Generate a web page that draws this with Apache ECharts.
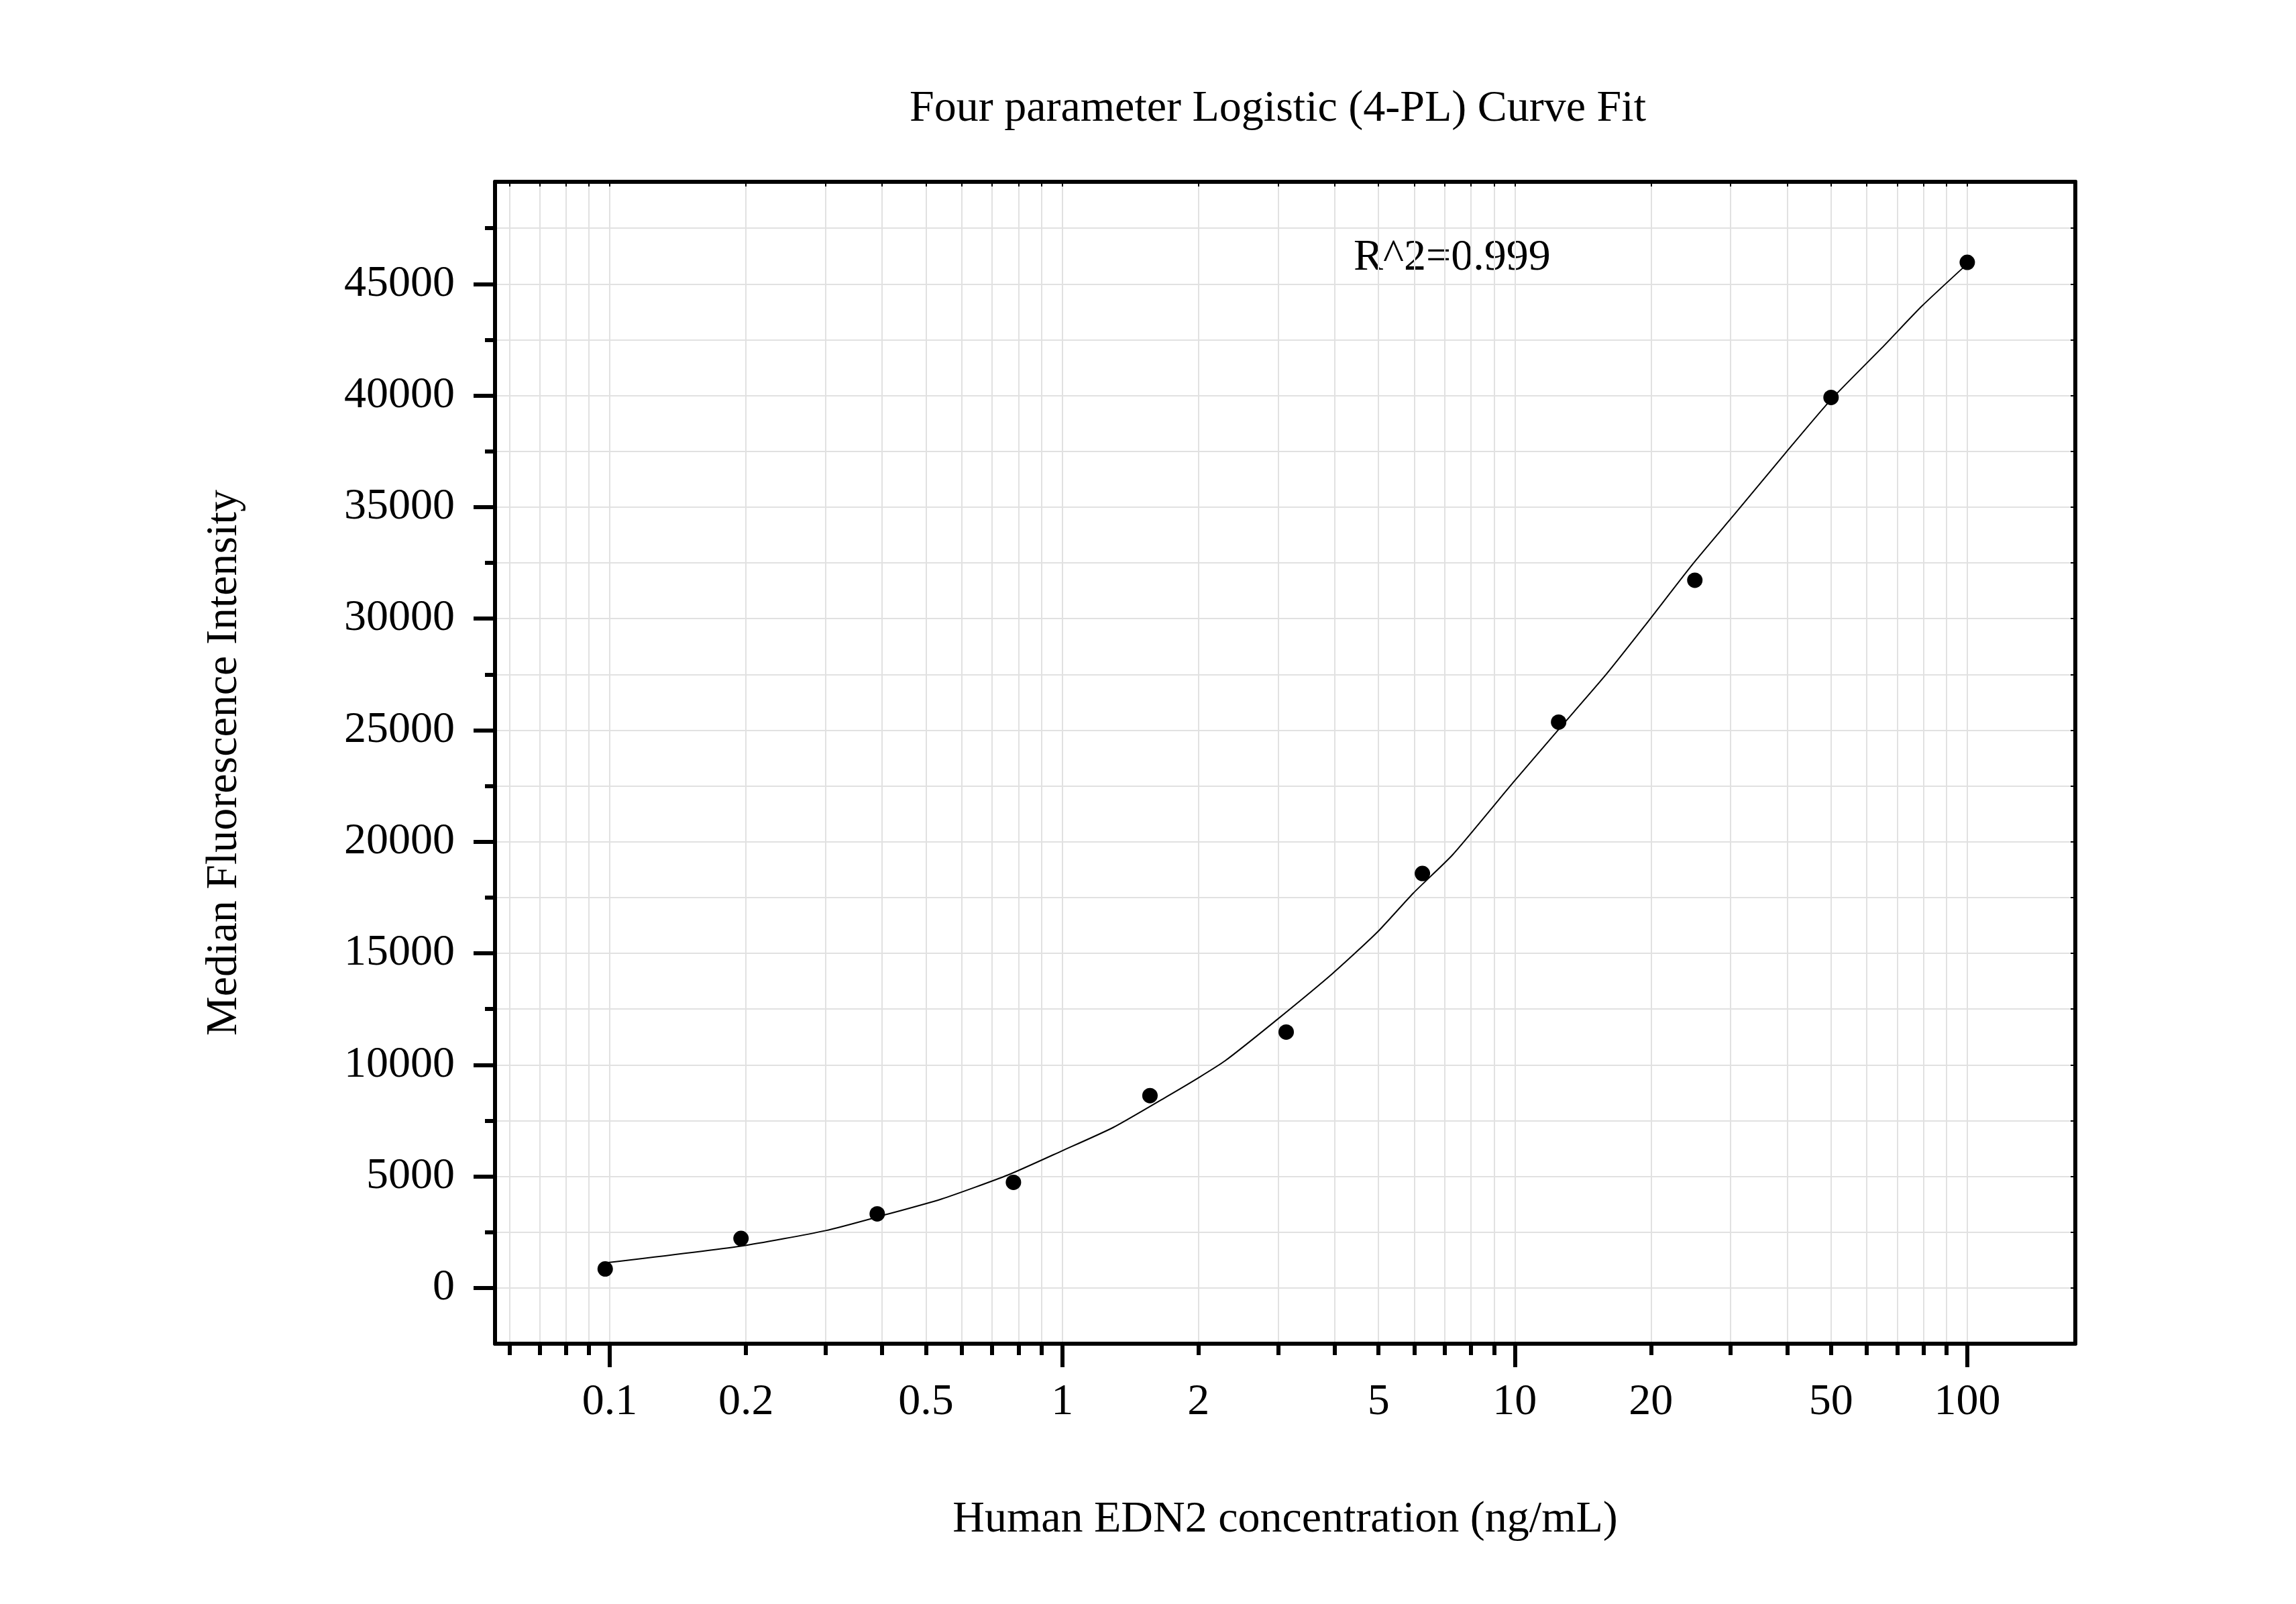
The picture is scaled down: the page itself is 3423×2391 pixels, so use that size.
<!DOCTYPE html>
<html>
<head>
<meta charset="utf-8">
<script src="https://cdn.jsdelivr.net/npm/echarts@6/dist/echarts.min.js"></script>
<style>
html, body { margin: 0; padding: 0; background: #fff; }
#echart { width: 3423px; height: 2391px; }
</style>
</head>
<body>
<div id="echart"></div>
<script>
// measured standards (ng/mL -> MFI)
var conc = [0.0977, 0.195, 0.39, 0.78, 1.5625, 3.125, 6.25, 12.5, 25, 50, 100];
var mfi = [850, 2220, 3320, 4735, 8620, 11470, 18575, 25360, 31720, 39915, 45970];

// fitted 4-PL curve
var fitConc = [0.0977, 0.195, 0.30, 0.40, 0.54, 0.76, 1.0, 1.295, 1.70, 2.0, 2.29, 2.98, 3.96, 4.96,
  5.97, 7.27, 8.92, 9.94, 12.4, 15.8, 19.36, 24.7, 30.98, 39.9, 50, 65.5, 79.3, 100];
var fitMfi = [1120, 1875, 2570, 3240, 3980, 5070, 6150, 7190, 8570, 9420, 10180, 12020, 14100, 15930,
  17700, 19390, 21530, 22680, 24950, 27420, 29670, 32430, 34810, 37490, 39820, 42240, 44000, 45900];

// axis ticks
var xLabelValues = [0.1, 0.2, 0.5, 1, 2, 5, 10, 20, 50, 100];
var xMajorTicks = [0.1, 1, 10, 100];
var xMinorTicks = [0.06, 0.07, 0.08, 0.09, 0.1, 0.2, 0.3, 0.4, 0.5, 0.6, 0.7, 0.8, 0.9,
  1, 2, 3, 4, 5, 6, 7, 8, 9, 10, 20, 30, 40, 50, 60, 70, 80, 90, 100];
var yLabelValues = [0, 5000, 10000, 15000, 20000, 25000, 30000, 35000, 40000, 45000];
var yMinorTicks = [0, 2500, 5000, 7500, 10000, 12500, 15000, 17500, 20000, 22500, 25000,
  27500, 30000, 32500, 35000, 37500, 40000, 42500, 45000, 47500];

var xMin = 0.05577, xMax = 173.3;
var yMin = -2500, yMax = 49580;

var lg = function (v) { return Math.log10(v); };
var fontFam = '"Liberation Serif", "Times New Roman", serif';

var myChart = echarts.init(document.getElementById('echart'));

var gridBox = { left: 738, top: 271, width: 2356, height: 1732 };

myChart.setOption({
  backgroundColor: '#fff',
  animation: false,
  title: {
    text: 'Four parameter Logistic (4-PL) Curve Fit',
    left: 1905,
    top: 130,
    padding: 0,
    textAlign: 'center',
    textStyle: { fontFamily: fontFam, fontSize: 66, fontWeight: 'normal', color: '#000' }
  },
  graphic: [{
    type: 'text',
    left: 2018,
    top: 352,
    style: { text: 'R^2=0.999', font: '66px ' + fontFam, fill: '#000' }
  }],
  grid: [
    Object.assign({ containLabel: false }, gridBox),
    Object.assign({ containLabel: false }, gridBox)
  ],
  xAxis: [{
    // bottom: minor ticks + grid lines
    gridIndex: 0, type: 'value', position: 'bottom',
    min: lg(xMin), max: lg(xMax),
    axisLine: { show: true, onZero: false, lineStyle: { color: '#000', width: 6 } },
    axisTick: { show: true, inside: false, length: 17, lineStyle: { color: '#000', width: 6 },
      customValues: xMinorTicks.map(lg) },
    axisLabel: { show: false },
    splitLine: { show: true, lineStyle: { color: '#e1e1e1', width: 2 } }
  }, {
    // top frame
    gridIndex: 0, type: 'value', position: 'top',
    min: lg(xMin), max: lg(xMax),
    axisLine: { show: true, onZero: false, lineStyle: { color: '#000', width: 6 } },
    axisTick: { show: true, inside: true, length: 7, lineStyle: { color: '#000', width: 2 },
      customValues: xMinorTicks.map(lg) },
    axisLabel: { show: false },
    splitLine: { show: false }
  }, {
    // bottom: major ticks, labels, name
    gridIndex: 1, type: 'value', position: 'bottom',
    min: lg(xMin), max: lg(xMax),
    name: 'Human EDN2 concentration (ng/mL)',
    nameLocation: 'middle',
    nameGap: 230,
    nameTextStyle: { fontFamily: fontFam, fontSize: 66, color: '#000' },
    axisLine: { show: false, onZero: false },
    axisTick: { show: true, inside: false, length: 35, lineStyle: { color: '#000', width: 6 },
      customValues: xMajorTicks.map(lg) },
    axisLabel: {
      show: true, margin: 55, fontFamily: fontFam, fontSize: 66, color: '#000',
      customValues: xLabelValues.map(lg),
      formatter: function (v) { return String(+Math.pow(10, v).toPrecision(3)); }
    },
    splitLine: { show: false }
  }],
  yAxis: [{
    gridIndex: 0, type: 'value', position: 'left',
    min: yMin, max: yMax,
    axisLine: { show: true, onZero: false, lineStyle: { color: '#000', width: 6 } },
    axisTick: { show: true, inside: false, length: 15, lineStyle: { color: '#000', width: 6 },
      customValues: yMinorTicks },
    axisLabel: { show: false },
    splitLine: { show: true, lineStyle: { color: '#e1e1e1', width: 2 } }
  }, {
    gridIndex: 0, type: 'value', position: 'right',
    min: yMin, max: yMax,
    axisLine: { show: true, onZero: false, lineStyle: { color: '#000', width: 6 } },
    axisTick: { show: true, inside: true, length: 7, lineStyle: { color: '#000', width: 2 },
      customValues: yMinorTicks },
    axisLabel: { show: false },
    splitLine: { show: false }
  }, {
    gridIndex: 1, type: 'value', position: 'left',
    min: yMin, max: yMax,
    name: 'Median Fluorescence Intensity',
    nameLocation: 'middle',
    nameGap: 370,
    nameTextStyle: { fontFamily: fontFam, fontSize: 66, color: '#000' },
    axisLine: { show: false, onZero: false },
    axisTick: { show: true, inside: false, length: 32, lineStyle: { color: '#000', width: 6 },
      customValues: yLabelValues },
    axisLabel: {
      show: true, margin: 60, fontFamily: fontFam, fontSize: 66, color: '#000',
      customValues: yLabelValues,
      formatter: function (v) { return String(v); }
    },
    splitLine: { show: false }
  }],
  series: [{
    name: 'fit',
    type: 'line',
    xAxisIndex: 0, yAxisIndex: 0,
    showSymbol: false,
    smooth: 0.2,
    lineStyle: { color: '#000', width: 2 },
    data: fitConc.map(function (c, i) { return [lg(c), fitMfi[i]]; }),
    z: 3
  }, {
    name: 'standards',
    type: 'scatter',
    xAxisIndex: 0, yAxisIndex: 0,
    symbol: 'circle',
    symbolSize: 23,
    itemStyle: { color: '#000', opacity: 1 },
    data: conc.map(function (c, i) { return [lg(c), mfi[i]]; }),
    z: 4
  }]
});
</script>
</body>
</html>
